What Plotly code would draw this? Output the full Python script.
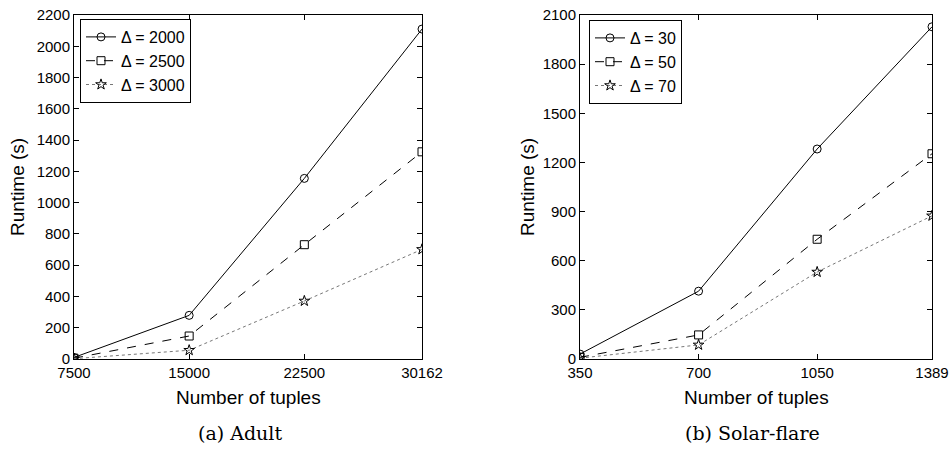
import plotly.graph_objects as go

# Adult dataset
adult_x = [7500, 15000, 22500, 30162]
adult_d2000 = [10, 279, 1155, 2110]
adult_d2500 = [5, 147, 731, 1325]
adult_d3000 = [2, 56, 371, 701]
adult_names = ["Δ = 2000", "Δ = 2500", "Δ = 3000"]
adult_yticks = list(range(0, 2201, 200))

# Solar-flare dataset
solar_x = [350, 700, 1050, 1389]
solar_d30 = [30, 414, 1282, 2028]
solar_d50 = [10, 147, 731, 1253]
solar_d70 = [5, 86, 531, 874]
solar_names = ["Δ = 30", "Δ = 50", "Δ = 70"]
solar_yticks = list(range(0, 2101, 300))

W, H = 951, 453
FONT = "Liberation Sans, Arial, sans-serif"

styles = [
    dict(dash="solid", symbol="circle-open", lcolor="black"),
    dict(dash="dash", symbol="square-open", lcolor="black"),
    dict(dash="dot", symbol="star-open", lcolor="#777777"),
]

fig = go.Figure()

def add_series(xs, ys_list, names, xa, ya, legend):
    for ys, name, st in zip(ys_list, names, styles):
        fig.add_trace(go.Scatter(
            x=xs, y=ys, name=name, mode="lines+markers",
            line=dict(color=st["lcolor"], width=1, dash=st["dash"]),
            marker=dict(symbol=st["symbol"], size=8, color="black",
                        line=dict(color="black", width=1)),
            xaxis=xa, yaxis=ya, legend=legend,
        ))

add_series(adult_x, [adult_d2000, adult_d2500, adult_d3000], adult_names, "x", "y", "legend")
add_series(solar_x, [solar_d30, solar_d50, solar_d70], solar_names, "x2", "y2", "legend2")

ydom = [1 - 359 / H, 1 - 15 / H]
axis_common = dict(
    showline=True, linecolor="black", linewidth=1, mirror="ticks",
    ticks="inside", ticklen=5, tickcolor="black", showgrid=False, zeroline=False,
    automargin=False,
    tickfont=dict(family=FONT, size=15, color="black"),
)

legend_common = dict(xanchor="left", yanchor="top", bordercolor="black", borderwidth=1,
                     bgcolor="white", font=dict(family=FONT, size=16, color="black"),
                     tracegroupgap=0, itemwidth=30)

fig.update_layout(
    width=W, height=H,
    margin=dict(l=0, r=0, t=0, b=0, autoexpand=False),
    paper_bgcolor="white", plot_bgcolor="white",
    font=dict(family=FONT, color="black"),
    xaxis=dict(domain=[74 / W, 422 / W], range=[7500, 30162], tickvals=adult_x,
               ticktext=[str(v) for v in adult_x], anchor="y", **axis_common),
    yaxis=dict(domain=ydom, range=[0, 2200], tickvals=adult_yticks, anchor="x", **axis_common),
    xaxis2=dict(domain=[580 / W, 932 / W], range=[350, 1389], tickvals=solar_x,
                ticktext=[str(v) for v in solar_x], anchor="y2", **axis_common),
    yaxis2=dict(domain=ydom, range=[0, 2100], tickvals=solar_yticks, anchor="x2", **axis_common),
    legend=dict(x=80 / W, y=1 - 19 / H, **legend_common),
    legend2=dict(x=589 / W, y=1 - 20 / H, **legend_common),
    showlegend=True,
)

ann = []
for xc, text in [(248, "Number of tuples"), (756, "Number of tuples")]:
    ann.append(dict(x=xc / W, y=1 - 397 / H, xref="paper", yref="paper", text=text,
                    showarrow=False, font=dict(family=FONT, size=19, color="black"),
                    xanchor="center", yanchor="middle"))
for xc, text in [(17, "Runtime (s)"), (527, "Runtime (s)")]:
    ann.append(dict(x=xc / W, y=(ydom[0] + ydom[1]) / 2, xref="paper", yref="paper", text=text,
                    textangle=-90, showarrow=False, font=dict(family=FONT, size=19, color="black"),
                    xanchor="center", yanchor="middle"))
for xc, text in [(240, "(a) Adult"), (752, "(b) Solar-flare")]:
    ann.append(dict(x=xc / W, y=1 - 433 / H, xref="paper", yref="paper", text=text,
                    showarrow=False, font=dict(family="DejaVu Serif, serif", size=19, color="black"),
                    xanchor="center", yanchor="middle"))
fig.update_layout(annotations=ann)

fig.write_html("out.html", config={"displayModeBar": False},
               post_script="document.body.style.margin='0';document.body.style.overflow='hidden';")
